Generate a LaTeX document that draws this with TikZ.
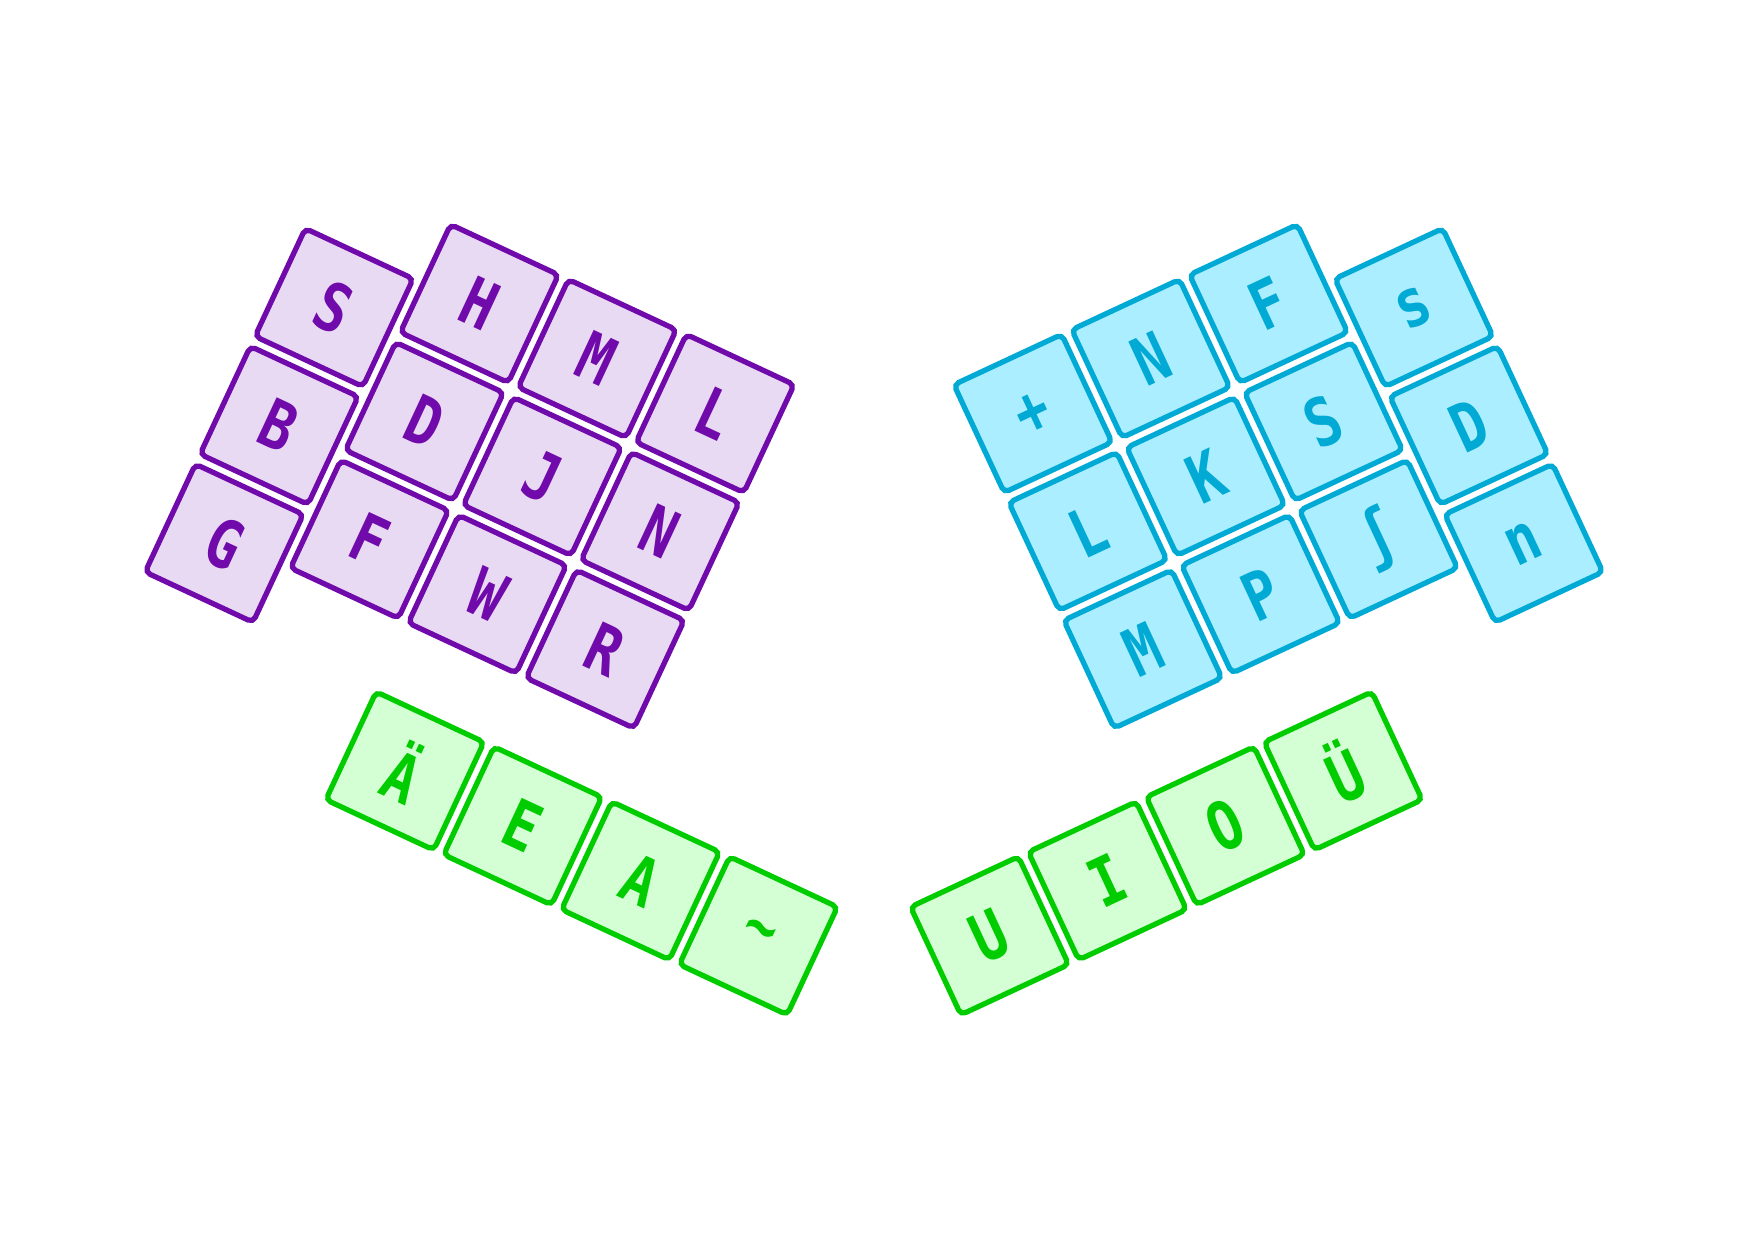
\documentclass[tikz,border=0pt]{standalone}
\usepackage{fontspec}
\usepackage{tikz}
\usetikzlibrary{positioning}
\newfontfamily\keyfont{DejaVu Sans Mono}[FakeStretch=0.82]
\definecolor{leftpurple}{RGB}{112,10,170}
\definecolor{leftfill}{RGB}{232,218,242}
\definecolor{rightblue}{RGB}{0,170,212}
\definecolor{rightfill}{RGB}{170,238,255}
\definecolor{thumbgreen}{RGB}{0,204,0}
\definecolor{thumbfill}{RGB}{212,255,212}

\begin{document}
\begin{tikzpicture}[x=1.3cm, y=1.3cm,
    keycap/.style={draw, rounded corners=1.5pt, line width=1.5pt,
        minimum size=1.19cm, inner sep=0pt,
        font=\keyfont\bfseries\fontsize{19}{19}\selectfont},
    leftkey/.style={keycap, draw=leftpurple, fill=leftfill, text=leftpurple, rotate=-25},
    rightkey/.style={keycap, draw=rightblue, fill=rightfill, text=rightblue, rotate=25},
    lthumb/.style={keycap, draw=thumbgreen, fill=thumbfill, text=thumbgreen, rotate=-25},
    rthumb/.style={keycap, draw=thumbgreen, fill=thumbfill, text=thumbgreen, rotate=25}]
    \useasboundingbox (0,0) rectangle (17.48cm,12.40cm);
    % Left hand
    \begin{scope}[shift={(4.794cm,9.364cm)}, rotate=-25]
        \foreach \n/\x/\y/\t in {S/-1/-0.5/S, B/-1/-1.5/B, G/-1/-2.5/G,
                                 H/0/0/H, D/0/-1/D, F/0/-2/F,
                                 M/1/0/M, J/1/-1/J, W/1/-2/W,
                                 L/2/0/L, N/2/-1/N, R/2/-2/R} {
            \node[leftkey] (left\n) at (\x,\y) {\t};
        }
        % Left thumb row
        \foreach \n/\x/\t in {Auml/1/Ä, E/2/E, A/3/A, tilde/4/{\textasciitilde}} {
            \node[lthumb] (lthumb\n) at (\x,-3.5) {\t};
        }
    \end{scope}
    % Right hand
    \begin{scope}[shift={(12.686cm,9.364cm)}, rotate=25]
        \foreach \n/\x/\y/\t in {plus/-2/0/+, L/-2/-1/L, M/-2/-2/M,
                                 N/-1/0/N, K/-1/-1/K, P/-1/-2/P,
                                 F/0/0/F, S/0/-1/S, esh/0/-2/ʃ,
                                 s/1/-0.5/s, D/1/-1.5/D, n/1/-2.5/n} {
            \node[rightkey] (right\n) at (\x,\y) {\t};
        }
        % Right thumb row
        \foreach \n/\x/\t in {Uuml/-1/Ü, O/-2/O, I/-3/I, U/-4/U} {
            \node[rthumb] (rthumb\n) at (\x,-3.5) {\t};
        }
    \end{scope}
\end{tikzpicture}
\end{document}
